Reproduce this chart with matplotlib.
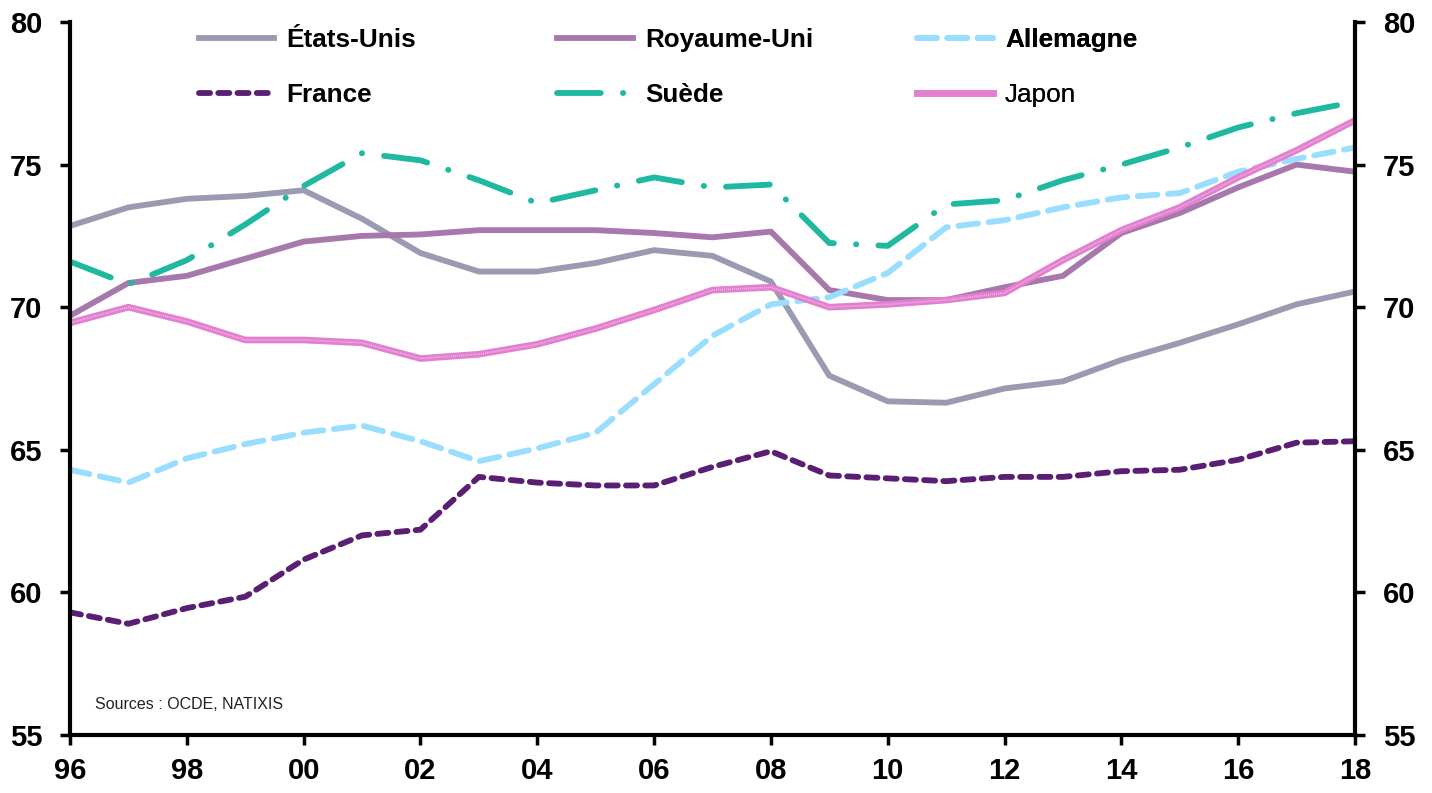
import matplotlib.pyplot as plt

plt.rcParams['font.family'] = ['Liberation Sans', 'DejaVu Sans']

years = list(range(1996, 2019))
year_labels = ['96', '98', '00', '02', '04', '06', '08', '10', '12', '14', '16', '18']

etats_unis = [72.85, 73.5, 73.8, 73.9, 74.1, 73.1, 71.9, 71.25, 71.25, 71.55, 72.0, 71.8,
              70.9, 67.6, 66.7, 66.65, 67.15, 67.4, 68.15, 68.75, 69.4, 70.1, 70.55]
royaume_uni = [69.7, 70.85, 71.1, 71.7, 72.3, 72.5, 72.55, 72.7, 72.7, 72.7, 72.6, 72.45,
               72.65, 70.6, 70.25, 70.25, 70.7, 71.1, 72.6, 73.3, 74.2, 75.0, 74.75]
allemagne = [64.3, 63.85, 64.7, 65.2, 65.6, 65.85, 65.3, 64.6, 65.05, 65.6, 67.3, 69.0,
             70.1, 70.35, 71.2, 72.8, 73.05, 73.5, 73.85, 74.0, 74.75, 75.2, 75.6]
france = [59.3, 58.9, 59.45, 59.85, 61.15, 62.0, 62.2, 64.05, 63.85, 63.75, 63.75, 64.4,
          64.95, 64.1, 64.0, 63.9, 64.05, 64.05, 64.25, 64.3, 64.65, 65.25, 65.3]
suede = [71.6, 70.8, 71.65, 72.9, 74.25, 75.4, 75.15, 74.45, 73.65, 74.1, 74.55, 74.2,
         74.3, 72.25, 72.15, 73.6, 73.75, 74.45, 75.0, 75.6, 76.3, 76.8, 77.2]
japon = [69.45, 70.0, 69.5, 68.85, 68.85, 68.75, 68.2, 68.35, 68.7, 69.25, 69.9, 70.6,
         70.7, 70.0, 70.1, 70.25, 70.5, 71.65, 72.7, 73.5, 74.55, 75.5, 76.55]

fig = plt.figure(figsize=(14.32, 7.93), dpi=100)
ax = fig.add_axes([0.0489, 0.0731, 0.8973, 0.8992])

lw = 4.2
l_us, = ax.plot(years, etats_unis, color='#9a9ab3', lw=lw, solid_joinstyle='round')
l_uk, = ax.plot(years, royaume_uni, color='#a678ac', lw=lw, solid_joinstyle='round')
l_de, = ax.plot(years, allemagne, color='#99ddff', lw=lw, dashes=(3.4, 1.8),
                dash_capstyle='round', dash_joinstyle='round')
l_fr, = ax.plot(years, france, color='#5a1f74', lw=lw, dashes=(1.9, 1.4),
                dash_capstyle='round', dash_joinstyle='round')
l_se, = ax.plot(years, suede, color='#1fb8a0', lw=lw, dashes=(7.5, 3.8, 0.05, 3.8),
                dash_capstyle='round', dash_joinstyle='round')
l_jp, = ax.plot(years, japon, color='#e27fcf', lw=lw + 0.6, solid_joinstyle='round')
ax.plot(years, japon, color='#f3b6e6', lw=1.2, dashes=(0.6, 0.6))

ax.set_xlim(1996, 2018)
ax.set_ylim(55, 80)
ax.set_xticks(range(1996, 2019, 2))
ax.set_xticklabels(year_labels)
ax.set_yticks(range(55, 81, 5))

ax.spines['top'].set_visible(False)
for s in ['left', 'right', 'bottom']:
    ax.spines[s].set_linewidth(3)
ax.tick_params(axis='both', direction='out', length=7, width=2.5, labelsize=21)
ax.tick_params(axis='y', right=True, labelright=True, pad=13)
ax.tick_params(axis='x', pad=9)
for t in ax.get_xticklabels():
    t.set_fontweight('bold')
for tick in ax.yaxis.get_major_ticks():
    tick.label1.set_fontweight('bold')
    tick.label2.set_fontweight('bold')

# three legend columns placed by hand
leg_cols = [
    ([l_us, l_fr], ['États-Unis', 'France'], 0.092),
    ([l_uk, l_se], ['Royaume-Uni', 'Suède'], 0.371),
    ([l_de, l_jp], ['Allemagne', 'Japon'], 0.651),
]
for handles, labels, x0 in leg_cols:
    leg = ax.legend(handles, labels, loc='upper left', bbox_to_anchor=(x0, 1.006),
                    frameon=False, fontsize=18.8, handlelength=2.9, handletextpad=0.47,
                    labelspacing=1.2, borderaxespad=0)
    for t in leg.get_texts():
        if t.get_text() != 'Japon':
            t.set_fontweight('bold')
    ax.add_artist(leg)

ax.text(0.0195, 0.032, 'Sources : OCDE, NATIXIS', transform=ax.transAxes,
        fontsize=11.5, color='#222222', va='bottom')

fig.savefig('out.png', dpi=100)
